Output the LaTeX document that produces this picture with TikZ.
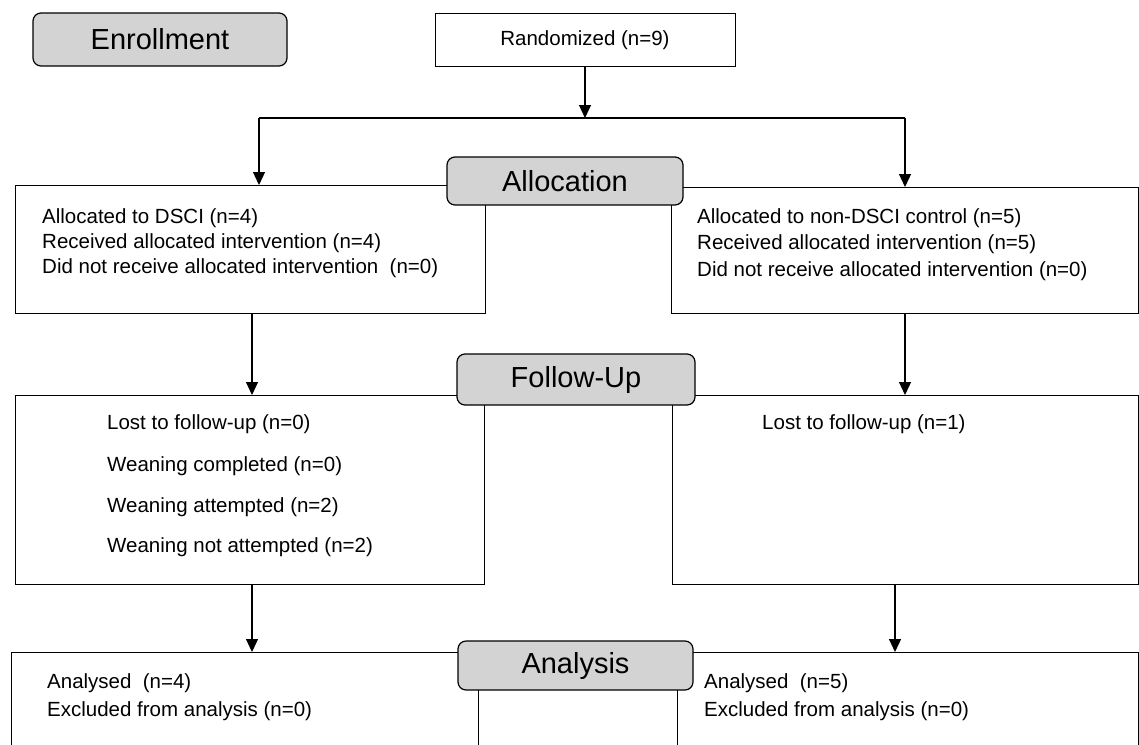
\documentclass[tikz,border=0pt]{standalone}
\usepackage{fontspec}
\setmainfont{Liberation Sans}
\usetikzlibrary{arrows.meta}
\definecolor{titlegray}{HTML}{D3D3D3}
\tikzset{
  box/.style={draw=black, line width=1.2pt, fill=white, inner sep=0pt, anchor=north west},
  titlebox/.style={draw=black, line width=1.2pt, fill=titlegray, rounded corners=8pt, inner sep=0pt,
    font=\fontsize{29}{32}\selectfont},
  txt/.style={inner sep=0pt, anchor=base west, font=\fontsize{20.5}{24}\selectfont},
  conn/.style={line width=1.2pt},
  arr/.style={line width=1.2pt, -{Triangle[width=12pt,length=13pt]}}
}
\begin{document}
\begin{tikzpicture}[x=1pt,y=-1pt]
\useasboundingbox (0,0) rectangle (1139,744);
\clip (0,0) rectangle (1139,744);

% boxes
\node[box, minimum width=300pt, minimum height=53pt] (rand) at (435,13) {};
\node[txt, anchor=center] (randt) at (585,40) {Randomized (n=9)};

\node[box, minimum width=470pt, minimum height=128pt] (a1) at (15,185) {};
\node[box, minimum width=467pt, minimum height=126pt] (a2) at (671,187) {};
\node[box, minimum width=469pt, minimum height=189pt] (f1) at (15,395) {};
\node[box, minimum width=466pt, minimum height=189pt] (f2) at (672,395) {};
\node[box, minimum width=467pt, minimum height=140pt] (n1) at (11,652) {};
\node[box, minimum width=461pt, minimum height=140pt] (n2) at (677,652) {};

% title boxes
\node[titlebox, minimum width=254pt, minimum height=53pt] (enr) at (160,39.5) {Enrollment};
\node[titlebox, minimum width=236pt, minimum height=48pt] (alloc) at (565,181) {Allocation};
\node[titlebox, minimum width=238pt, minimum height=51pt] (fu) at (576,379.5) {Follow-Up};
\node[titlebox, minimum width=235pt, minimum height=49pt] (ana) at (575.5,665.5) {Analysis};

% texts
\node[txt] (a1l1) at (42,223) {Allocated to DSCI (n=4)};
\node[txt] (a1l2) at (42,248) {Received allocated intervention (n=4)};
\node[txt] (a1l3) at (42,273) {Did not receive allocated intervention\ \ (n=0)};

\node[txt] (a2l1) at (697,223) {Allocated to non-DSCI control (n=5)};
\node[txt] (a2l2) at (697,249) {Received allocated intervention (n=5)};
\node[txt] (a2l3) at (697,276) {Did not receive allocated intervention (n=0)};

\node[txt] (f1l1) at (107,429) {Lost to follow-up (n=0)};
\node[txt] (f1l2) at (107,471) {Weaning completed (n=0)};
\node[txt] (f1l3) at (107,512) {Weaning attempted (n=2)};
\node[txt] (f1l4) at (107,552) {Weaning not attempted (n=2)};

\node[txt] (f2l1) at (762,429) {Lost to follow-up (n=1)};

\node[txt] (n1l1) at (47,688) {Analysed\ \ (n=4)};
\node[txt] (n1l2) at (47,716) {Excluded from analysis (n=0)};
\node[txt] (n2l1) at (704,688) {Analysed\ \ (n=5)};
\node[txt] (n2l2) at (704,716) {Excluded from analysis (n=0)};

% connectors
\coordinate (split) at (585,118);
\coordinate (sl) at (259,118);
\coordinate (sr) at (905,118);
\draw[arr] (rand.south -| split) -- (split);
\draw[conn] (sl) -- (sr);
\draw[arr] (sl) -- (sl |- a1.north);
\draw[arr] (sr) -- (sr |- a2.north);

\coordinate (c1) at (252,0);
\coordinate (c2) at (905,0);
\coordinate (c3) at (895,0);
\draw[arr] (c1 |- a1.south) -- (c1 |- f1.north);
\draw[arr] (c2 |- a2.south) -- (c2 |- f2.north);
\draw[arr] (c1 |- f1.south) -- (c1 |- n1.north);
\draw[arr] (c3 |- f2.south) -- (c3 |- n2.north);
\end{tikzpicture}
\end{document}
